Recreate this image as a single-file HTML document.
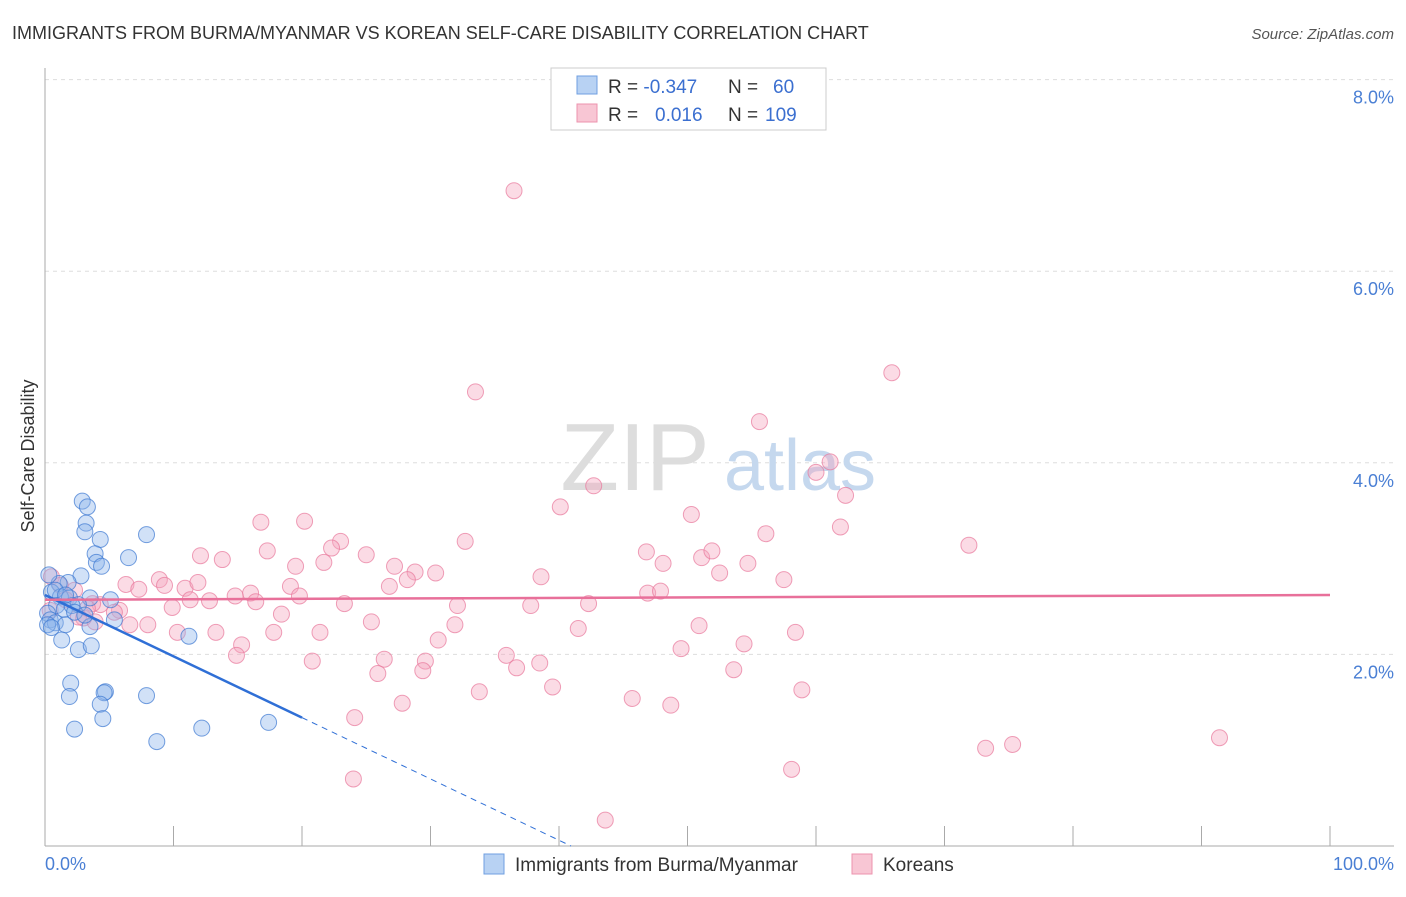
<!DOCTYPE html>
<html><head><meta charset="utf-8"><style>
body{margin:0;background:#fff;font-family:"Liberation Sans",sans-serif}
svg text{font-family:"Liberation Sans",sans-serif}
</style></head><body>
<svg width="1406" height="892">
<text x="12" y="39" font-size="18" fill="#333">IMMIGRANTS FROM BURMA/MYANMAR VS KOREAN SELF-CARE DISABILITY CORRELATION CHART</text>
<text x="1394" y="39" font-size="15" fill="#555" text-anchor="end" font-style="italic">Source: ZipAtlas.com</text>
<g id="grid"></g>
<text x="635" y="490" font-size="96" fill="#ddd" font-family="Liberation Serif" text-anchor="middle">ZIP</text>
<text x="800" y="490" font-size="72" fill="#c5d8ee" text-anchor="middle">atlas</text>
<line x1="45" y1="68" x2="45" y2="846" stroke="#aaa"/>
<line x1="45" y1="846" x2="1394" y2="846" stroke="#aaa"/>
<text transform="translate(34,456) rotate(-90)" font-size="18" fill="#333" text-anchor="middle">Self-Care Disability</text>
<text x="45" y="870" font-size="18" fill="#4a7fd4">0.0%</text>
<text x="1394" y="870" font-size="18" fill="#4a7fd4" text-anchor="end">100.0%</text>
<g id="pts"></g>
<g id="lines"></g>
<g>
<rect x="551" y="68" width="275" height="62" fill="#fff" stroke="#ccc"/>
<rect x="577" y="76" width="20" height="18" fill="#b8d2f3" stroke="#6f9fe0"/>
<rect x="577" y="104" width="20" height="18" fill="#f8c6d4" stroke="#ec93ae"/>
<text x="608" y="93" font-size="19" fill="#333">R = <tspan fill="#3b6fd0">-0.347</tspan><tspan x="728">N = </tspan><tspan fill="#3b6fd0" x="773">60</tspan></text>
<text x="608" y="121" font-size="19" fill="#333">R = <tspan fill="#3b6fd0" x="655">0.016</tspan><tspan x="728">N = </tspan><tspan fill="#3b6fd0" x="765">109</tspan></text>
</g>
<g>
<rect x="484" y="854" width="20" height="20" fill="#b8d2f3" stroke="#6f9fe0"/>
<text x="515" y="871" font-size="19" fill="#333">Immigrants from Burma/Myanmar</text>
<rect x="852" y="854" width="20" height="20" fill="#f8c6d4" stroke="#ec93ae"/>
<text x="883" y="871" font-size="19" fill="#333">Koreans</text>
</g>
</svg>
<script>
const yTicks=[2,4,6,8];
const xTicks=[0,10,20,30,40,50,60,70,80,90,100];
const blueX=[2.9,3.3,3.2,3.1,4.3,7.9,6.5,3.9,4.0,4.4,2.8,1.8,1.1,3.5,5.1,0.5,1.2,1.9,2.6,0.9,1.5,2.1,0.2,0.4,0.8,1.6,3.5,5.4,2.3,3.1,1.3,2.6,3.6,11.2,2.0,1.9,4.7,4.6,7.9,4.3,4.5,2.3,12.2,17.4,8.7,0.3,0.8,1.6,0.2,0.5];
const blueY=[3.60,3.54,3.37,3.28,3.20,3.25,3.01,3.05,2.96,2.92,2.82,2.75,2.74,2.59,2.57,2.65,2.60,2.59,2.52,2.51,2.47,2.51,2.43,2.36,2.33,2.31,2.29,2.36,2.44,2.41,2.15,2.05,2.09,2.19,1.70,1.56,1.61,1.60,1.57,1.48,1.33,1.22,1.23,1.29,1.09,2.83,2.67,2.62,2.31,2.28];
const pinkX=[36.5,33.5,65.9,55.6,61.1,60.0,62.3,40.1,42.7,50.3,16.8,20.2,23.0,22.3,32.7,56.1,61.9,71.9,12.1,13.8,17.3,25.0,19.5,21.7,27.2,28.8,30.4,46.8,48.1,51.1,51.9,54.7,52.5,57.5,38.6,28.2,26.8,19.1,8.9,10.9,11.9,6.3,7.3,9.3,16.0,14.8,19.8,23.3,12.8,11.3,9.9,16.4,32.1,37.8,42.3,46.9,47.9,5.8,4.3,5.4,3.7,3.0,3.9,6.6,8.0,18.4,25.4,31.9,41.5,50.9,10.3,13.3,17.8,21.4,30.6,54.4,58.4,15.3,14.9,20.8,26.4,29.6,35.9,38.5,36.7,25.9,29.4,49.5,53.6,39.5,33.8,45.7,48.7,27.8,24.1,58.9,73.2,75.3,91.4,58.1,24.0,43.6,0.5,1.2,2.3,3.3,1.6,2.6,0.4];
const pinkY=[6.84,4.74,4.94,4.43,4.01,3.90,3.66,3.54,3.76,3.46,3.38,3.39,3.18,3.11,3.18,3.26,3.33,3.14,3.03,2.99,3.08,3.04,2.92,2.96,2.92,2.86,2.85,3.07,2.95,3.01,3.08,2.95,2.85,2.78,2.81,2.78,2.71,2.71,2.78,2.69,2.75,2.73,2.68,2.72,2.64,2.61,2.61,2.53,2.56,2.57,2.49,2.55,2.51,2.51,2.53,2.64,2.66,2.46,2.52,2.44,2.53,2.38,2.34,2.31,2.31,2.42,2.34,2.31,2.27,2.30,2.23,2.23,2.23,2.23,2.15,2.11,2.23,2.10,1.99,1.93,1.95,1.93,1.99,1.91,1.86,1.80,1.83,2.06,1.84,1.66,1.61,1.54,1.47,1.49,1.34,1.63,1.02,1.06,1.13,0.80,0.70,0.27,2.81,2.72,2.67,2.48,2.57,2.39,2.46];
const blueFit=[2.62,-0.064];
const pinkFit=[2.57,0.0005];
const NS='http://www.w3.org/2000/svg';
const sx=v=>45+v*12.85, sy=v=>846-v*95.8;
function mk(t,a,p){const e=document.createElementNS(NS,t);for(const k in a)e.setAttribute(k,a[k]);p.appendChild(e);return e;}
const grid=document.getElementById('grid');
yTicks.forEach(t=>{
 const l=mk('line',{x1:45,x2:1394,y1:sy(t),y2:sy(t),stroke:'#ddd','stroke-dasharray':'4,4'},grid);
 
 
 const tx=mk('text',{x:1394,y:sy(t)+24,'font-size':18,fill:'#4a7fd4','text-anchor':'end'},grid);
 tx.textContent=t.toFixed(1)+'%';
 
 
});
xTicks.forEach(t=>{
 const l=mk('line',{x1:sx(t),x2:sx(t),y1:826,y2:846,stroke:'#aaa'},grid);
 
 
});
const pts=document.getElementById('pts');
pinkX.forEach((x,i)=>{
 const c=mk('circle',{cx:sx(x),cy:sy(pinkY[i]),r:8,fill:'rgba(244,166,190,0.4)',stroke:'rgba(232,120,155,0.7)'},pts);
 
 
});
blueX.forEach((x,i)=>{
 const c=mk('circle',{cx:sx(x),cy:sy(blueY[i]),r:8,fill:'rgba(140,180,235,0.4)',stroke:'rgba(60,120,210,0.7)'},pts);
 
 
});
const lines=document.getElementById('lines');
const f=(fit,x)=>fit[0]+fit[1]*x;
let l1=mk('line',{x1:sx(0),y1:sy(f(blueFit,0)),x2:sx(20),y2:sy(f(blueFit,20)),stroke:'#2f6fd6','stroke-width':2.5},lines);


const xz=-blueFit[0]/blueFit[1];
let l2=mk('line',{x1:sx(20),y1:sy(f(blueFit,20)),x2:sx(xz),y2:sy(0),stroke:'#2f6fd6','stroke-width':1,'stroke-dasharray':'6,5'},lines);


let l3=mk('line',{x1:sx(0),y1:sy(f(pinkFit,0)),x2:sx(100),y2:sy(f(pinkFit,100)),stroke:'#e8709a','stroke-width':2.5},lines);


</script>
</body></html>
